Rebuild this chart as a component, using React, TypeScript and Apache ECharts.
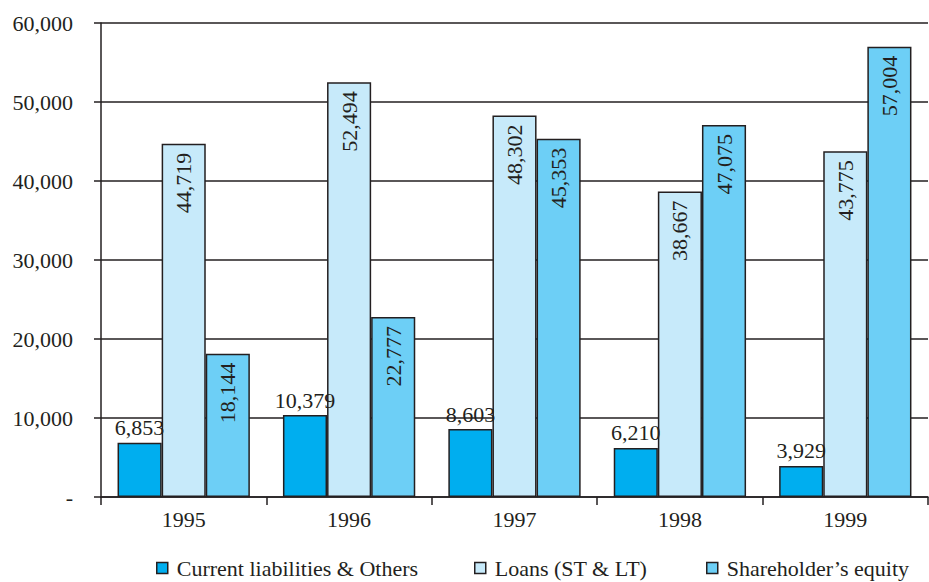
import React, { useEffect, useRef } from "react";
import * as echarts from "echarts";

const years = ["1995", "1996", "1997", "1998", "1999"];
const currentLiabilities = [6853, 10379, 8603, 6210, 3929];
const loans = [44719, 52494, 48302, 38667, 43775];
const equity = [18144, 22777, 45353, 47075, 57004];

const seriesNames = ["Current liabilities & Others", "Loans (ST & LT)", "Shareholder\u2019s equity"];
const seriesColors = ["#00AEEF", "#C7EAFA", "#6DCFF6"];
const legendLefts = [156, 474, 706];

const INK = "#231F20";
const FONT = "'Liberation Serif', 'DejaVu Serif', serif";
const FS = 22;

const fmt = (v: number) => (v === 0 ? "-" : v.toLocaleString("en-US"));

export default function App() {
  const ref = useRef<HTMLDivElement>(null);

  useEffect(() => {
    if (!ref.current) return;
    const chart = echarts.init(ref.current, null, { renderer: "svg" });

    const rotatedLabel = {
      show: true,
      position: "insideTop",
      rotate: 90,
      align: "right",
      verticalAlign: "middle",
      distance: 9,
      color: INK,
      fontFamily: FONT,
      fontSize: FS,
      formatter: (p: any) => fmt(p.value),
    };

    const data = [currentLiabilities, loans, equity];

    chart.setOption({
      animation: false,
      backgroundColor: "#ffffff",
      textStyle: { fontFamily: FONT, color: INK },
      grid: { left: 101, right: 1, top: 23, bottom: 85 },
      legend: seriesNames.map((name, i) => ({
        data: [name],
        left: legendLefts[i],
        top: 557,
        padding: 0,
        itemWidth: 11,
        itemHeight: 11,
        icon: "rect",
        selectedMode: false,
        itemStyle: { borderColor: INK, borderWidth: 1.5 },
        textStyle: { fontFamily: FONT, fontSize: FS, color: INK, padding: [0, 0, 0, 4] },
      })),
      xAxis: {
        type: "category",
        data: years,
        axisLine: { lineStyle: { color: INK, width: 1.5 } },
        axisTick: { show: true, length: 8, lineStyle: { color: INK, width: 1.5 } },
        axisLabel: { color: INK, fontFamily: FONT, fontSize: FS, margin: 11 },
      },
      yAxis: {
        type: "value",
        min: 0,
        max: 60000,
        interval: 10000,
        axisLine: { show: true, lineStyle: { color: INK, width: 1.5 } },
        axisTick: { show: true, length: 7, lineStyle: { color: INK, width: 1.5 } },
        axisLabel: {
          color: INK,
          fontFamily: FONT,
          fontSize: FS,
          margin: 28,
          formatter: (v: number) => fmt(v),
        },
        splitLine: { show: true, lineStyle: { color: INK, width: 1.5 } },
      },
      series: seriesNames.map((name, i) => ({
        name,
        type: "bar",
        data: data[i],
        barGap: "0%",
        barCategoryGap: "20%",
        itemStyle: { color: seriesColors[i], borderColor: INK, borderWidth: 1.5 },
        label:
          i === 0
            ? {
                show: true,
                position: "top",
                distance: 4,
                color: INK,
                fontFamily: FONT,
                fontSize: FS,
                formatter: (p: any) => fmt(p.value),
              }
            : rotatedLabel,
      })),
    });

    return () => chart.dispose();
  }, []);

  return (
    <div
      ref={ref}
      style={{ position: "absolute", left: 0, top: 0, width: 929, height: 582 }}
    />
  );
}
